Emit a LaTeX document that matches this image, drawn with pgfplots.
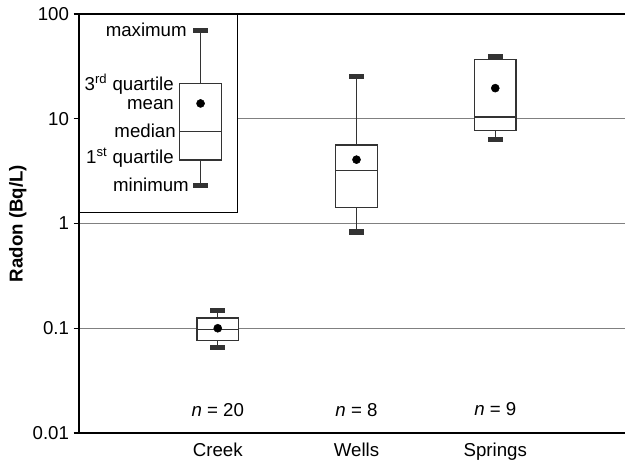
\documentclass[border=0pt]{standalone}
\usepackage{pgfplots}
\pgfplotsset{compat=1.18}
\usepgfplotslibrary{statistics}
\usepackage{fontspec}
\setmainfont{Liberation Sans}
\definecolor{boxc}{HTML}{333333}
\definecolor{gridc}{HTML}{808080}
\begin{document}
\begin{tikzpicture}[font=\fontsize{14}{16}\selectfont]
\useasboundingbox (-59.25pt,-20.25pt) rectangle (409.5pt,324.75pt);
\begin{axis}[
  at={(0,0)}, anchor=south west,
  scale only axis, width=409.5pt, height=314.25pt,
  ymode=log, ymin=0.01, ymax=100,
  xmin=0, xmax=3.935,
  axis x line*=bottom, axis y line*=left,
  axis line style={-, black},
  x axis line style={line width=2pt},
  y axis line style={line width=1.5pt},
  xtick={1,2,3}, xticklabels={Creek,Wells,Springs},
  x tick style={draw=none},
  ytick={0.01,0.1,1,10,100}, yticklabels={0.01,0.1,1,10,100},
  yminorticks=false,
  y tick style={black, line width=0.8pt},
  tick align=outside, major tick length=4pt,
  ymajorgrids, grid style={gridc, line width=0.6pt},
  /pgf/number format/assume math mode=true,
  ylabel={\textbf{Radon (Bq/L)}},
  every axis y label/.style={at={(axis description cs:-0.112,0.5)}, rotate=90, anchor=center},
  clip=false,
  boxplot/draw direction=y,
  boxplot/box extend=0.3,
  boxplot/whisker extend=0.105,
  boxplot/every box/.style={draw=boxc, line width=0.9pt, fill=white},
  boxplot/every whisker/.style={draw=boxc, line width=0.9pt},
  boxplot/every median/.style={draw=boxc, line width=0.9pt},
  boxplot/draw/lower whisker/.code={%
    \draw[/pgfplots/boxplot/every whisker/.try]
      (boxplot box cs:\pgfplotsboxplotvalue{lower quartile},0.5) --
      (boxplot box cs:\pgfplotsboxplotvalue{lower whisker},0.5);
    \draw[boxc, line width=3.8pt]
      (boxplot whisker cs:\pgfplotsboxplotvalue{lower whisker},0) --
      (boxplot whisker cs:\pgfplotsboxplotvalue{lower whisker},1);
  },
  boxplot/draw/upper whisker/.code={%
    \draw[/pgfplots/boxplot/every whisker/.try]
      (boxplot box cs:\pgfplotsboxplotvalue{upper quartile},0.5) --
      (boxplot box cs:\pgfplotsboxplotvalue{upper whisker},0.5);
    \draw[boxc, line width=3.8pt]
      (boxplot whisker cs:\pgfplotsboxplotvalue{upper whisker},0) --
      (boxplot whisker cs:\pgfplotsboxplotvalue{upper whisker},1);
  },
  boxplot/draw/average/.code={%
    \fill[black] (boxplot box cs:\pgfplotsboxplotvalue{average},0.5) circle[radius=3pt];
  },
]
% top border line
\draw[black, line width=1.2pt] (rel axis cs:0,1) -- (rel axis cs:1,1);

% Creek
\addplot[boxplot prepared={draw direction=y, draw position=1, lower whisker=0.066, lower quartile=0.076,
  median=0.098, upper quartile=0.125, upper whisker=0.148, average=0.100}] coordinates {};
% Wells
\addplot[boxplot prepared={draw direction=y, draw position=2, lower whisker=0.83, lower quartile=1.43,
  median=3.18, upper quartile=5.62, upper whisker=25.1, average=4.07}] coordinates {};
% Springs
\addplot[boxplot prepared={draw direction=y, draw position=3, lower whisker=6.35, lower quartile=7.69,
  median=10.4, upper quartile=36.5, upper whisker=39.4, average=19.6}] coordinates {};

% legend frame
\draw[black, fill=white, line width=1.1pt] (axis cs:0,1.27) rectangle (axis cs:1.141,100);
\draw[black, line width=1.5pt] (rel axis cs:0,0) -- (rel axis cs:0,1);
% legend box
\addplot[boxplot prepared={draw direction=y, draw position=0.876, lower whisker=2.30, lower quartile=4.04,
  median=7.57, upper quartile=21.7, upper whisker=70, average=14.0}] coordinates {};
\node[anchor=east, inner sep=0pt] at (axis cs:0.778,70) {maximum};
\node[anchor=east, inner sep=0pt] at (axis cs:0.685,21.5) {3\textsuperscript{rd} quartile};
\node[anchor=east, inner sep=0pt] at (axis cs:0.685,13.6) {mean};
\node[anchor=east, inner sep=0pt] at (axis cs:0.699,7.69) {median};
\node[anchor=east, inner sep=0pt] at (axis cs:0.685,4.25) {1\textsuperscript{st} quartile};
\node[anchor=east, inner sep=0pt] at (axis cs:0.793,2.35) {minimum};

% sample sizes
\node at (axis cs:1,0.0165) {\textit{n} = 20};
\node at (axis cs:2,0.0165) {\textit{n} = 8};
\node at (axis cs:3,0.0170) {\textit{n} = 9};
\end{axis}
\end{tikzpicture}
\end{document}
